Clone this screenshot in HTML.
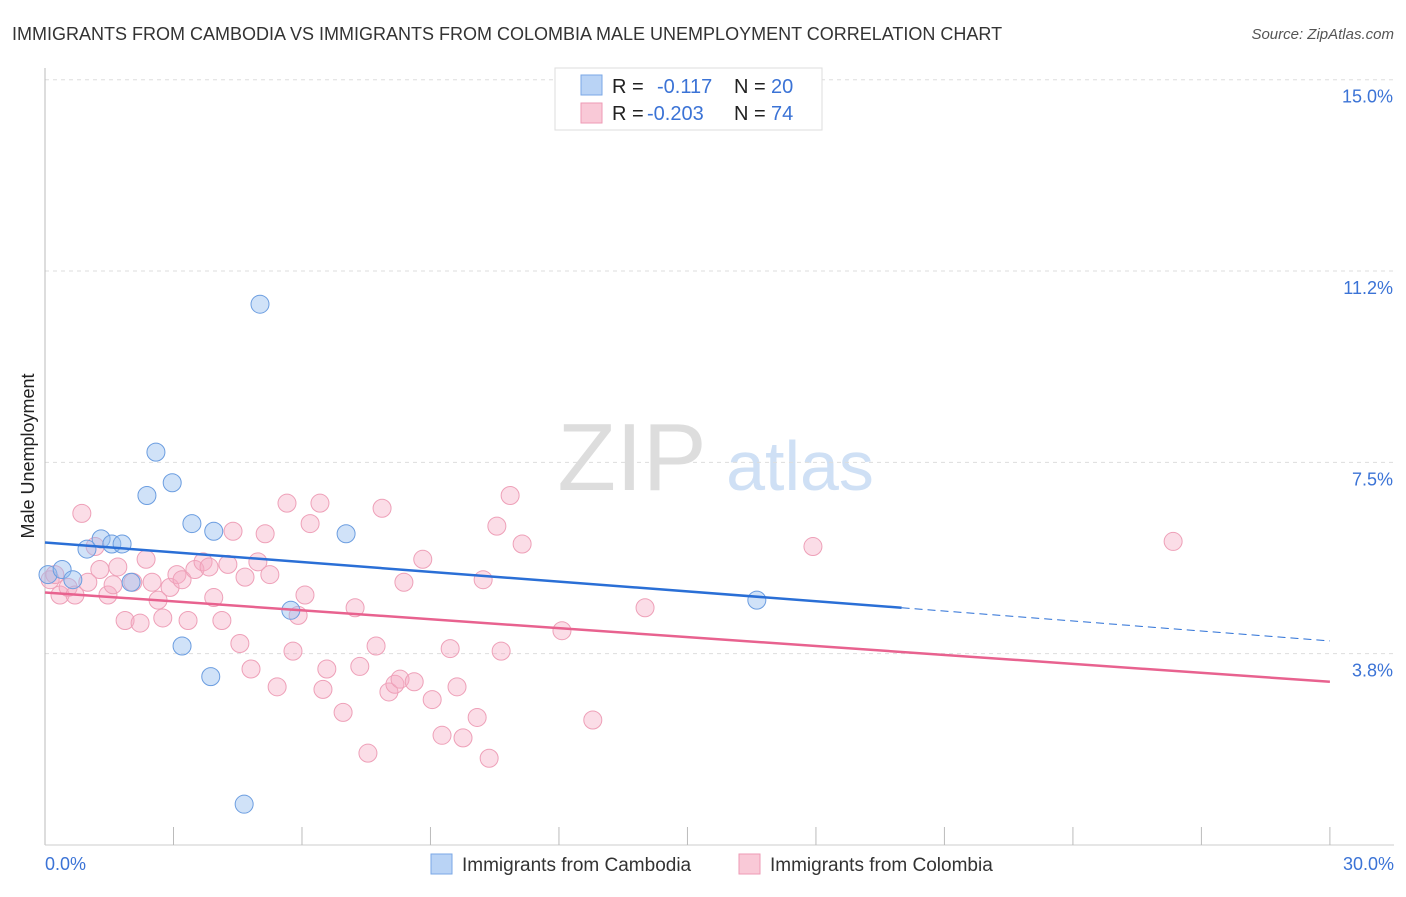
<!DOCTYPE html>
<html><head><meta charset="utf-8"><style>
body{margin:0;background:#fff;font-family:"Liberation Sans",sans-serif}
svg text{font-family:"Liberation Sans",sans-serif}
</style></head><body>
<svg id="c" width="1406" height="892" xmlns="http://www.w3.org/2000/svg">
<text x="12" y="40" font-size="18" fill="#333">IMMIGRANTS FROM CAMBODIA VS IMMIGRANTS FROM COLOMBIA MALE UNEMPLOYMENT CORRELATION CHART</text>
<text x="1394" y="39" font-size="15" fill="#555" font-style="italic" text-anchor="end">Source: ZipAtlas.com</text>
<text transform="translate(34,456) rotate(-90)" font-size="18" fill="#222" text-anchor="middle">Male Unemployment</text>
<g><text x="632" y="490" font-size="96" fill="#ddd" font-family="Liberation Serif,serif" text-anchor="middle">ZIP</text><text x="800" y="490" font-size="70" fill="#cfe0f5" text-anchor="middle">atlas</text></g>
<g id="grid"></g><g id="axes"></g><g id="pts"></g><g id="lines"></g>
<g>
<rect x="555" y="68" width="267" height="62" fill="#fff" stroke="#ddd"/>
<rect x="581" y="75" width="21" height="20" fill="#b9d3f5" stroke="#7aa7e6"/>
<rect x="581" y="103" width="21" height="20" fill="#f9c9d7" stroke="#ee9ab4"/>
<text x="612" y="93" font-size="20" fill="#222">R =</text><text x="657" y="93" font-size="20" fill="#3b73d6">-0.117</text>
<text x="734" y="93" font-size="20" fill="#222">N =</text><text x="771" y="93" font-size="20" fill="#3b73d6">20</text>
<text x="612" y="120" font-size="20" fill="#222">R =</text><text x="647" y="120" font-size="20" fill="#3b73d6">-0.203</text>
<text x="734" y="120" font-size="20" fill="#222">N =</text><text x="771" y="120" font-size="20" fill="#3b73d6">74</text>
</g>
<g>
<rect x="431" y="854" width="21" height="20" fill="#b9d3f5" stroke="#7aa7e6"/>
<text x="462" y="871" font-size="19" fill="#333">Immigrants from Cambodia</text>
<rect x="739" y="854" width="21" height="20" fill="#f9c9d7" stroke="#ee9ab4"/>
<text x="770" y="871" font-size="19" fill="#333">Immigrants from Colombia</text>
</g>
</svg>
<script>
const yTicks=[15.0,11.25,7.5,3.75];
const yTickLabels=["15.0%","11.2%","7.5%","3.8%"];
const xTickLabels=["0.0%","30.0%"];
const cambX=[0.07,0.4,0.65,0.98,1.31,1.56,1.8,2.01,2.38,2.59,2.97,3.2,3.43,3.87,3.94,5.02,5.74,7.03,4.65,16.62];
const cambY=[5.3,5.4,5.2,5.8,6.0,5.9,5.9,5.15,6.85,7.7,7.1,3.9,6.3,3.3,6.15,10.6,4.6,6.1,0.8,4.8];
const colX=[0.12,0.23,0.35,0.54,0.7,0.86,1.0,1.17,1.28,1.47,1.59,1.7,1.87,2.05,2.22,2.36,2.5,2.64,2.75,2.92,3.08,3.2,3.34,3.5,3.69,3.83,3.94,4.13,4.27,4.39,4.55,4.67,4.81,4.97,5.14,5.25,5.42,5.65,5.79,5.91,6.07,6.19,6.42,6.49,6.58,6.96,7.24,7.35,7.54,7.73,7.87,8.03,8.17,8.29,8.38,8.62,8.82,9.04,9.27,9.46,9.62,9.76,10.09,10.23,10.37,10.55,10.65,10.86,11.14,12.07,12.79,14.01,17.93,26.34];
const colY=[5.2,5.3,4.9,5.05,4.9,6.5,5.15,5.85,5.4,4.9,5.1,5.45,4.4,5.15,4.35,5.6,5.15,4.8,4.45,5.05,5.3,5.2,4.4,5.4,5.55,5.45,4.85,4.4,5.5,6.15,3.95,5.25,3.45,5.55,6.1,5.3,3.1,6.7,3.8,4.5,4.9,6.3,6.7,3.05,3.45,2.6,4.65,3.5,1.8,3.9,6.6,3.0,3.15,3.25,5.15,3.2,5.6,2.85,2.15,3.85,3.1,2.1,2.5,5.2,1.7,6.25,3.8,6.85,5.9,4.2,2.45,4.65,5.85,5.95];
const blueLine=[[0,5.93],[20,4.65]],blueDash=[[20,4.65],[30,4.0]];
const pinkLine=[[0,4.95],[30,3.2]];
const X=v=>45+v*42.83, Y=v=>845-v*51.02;
const ns="http://www.w3.org/2000/svg";
function mk(t,a,p){const e=document.createElementNS(ns,t);for(const k in a)e.setAttribute(k,a[k]);document.getElementById(p).appendChild(e);return e;}
yTicks.forEach((v,i)=>{
 const l=mk('line',{x1:45,x2:1394,y1:Y(v),y2:Y(v),stroke:'#ddd','stroke-dasharray':'4,4'},'grid');
 
 
 const t=mk('text',{x:1393,y:Y(v)+23,'font-size':18,fill:'#3b73d6','text-anchor':'end'},'grid');t.textContent=yTickLabels[i];
 
 
});
const ax=mk('line',{x1:45,x2:45,y1:68,y2:845,stroke:'#bbb'},'axes');


const bx=mk('line',{x1:45,x2:1394,y1:845,y2:845,stroke:'#ccc'},'axes');


for(let i=1;i<=10;i++){const t=mk('line',{x1:X(i*3),x2:X(i*3),y1:827,y2:845,stroke:'#bbb'},'axes');
 
 }
[[0,'start',45],[30,'end',1394]].forEach((d,i)=>{const t=mk('text',{x:d[2],y:870,'font-size':18,fill:'#3b73d6','text-anchor':d[1]},'axes');t.textContent=xTickLabels[i];
 
 });
colX.forEach((x,i)=>{const c=mk('circle',{cx:X(x),cy:Y(colY[i]),r:9,fill:'rgba(246,170,195,0.4)',stroke:'#eea0b8','stroke-width':1},'pts');
 
 });
cambX.forEach((x,i)=>{const c=mk('circle',{cx:X(x),cy:Y(cambY[i]),r:9,fill:'rgba(150,190,240,0.45)',stroke:'#6b9de0','stroke-width':1},'pts');
 
 });
let l1=mk('line',{x1:X(blueLine[0][0]),y1:Y(blueLine[0][1]),x2:X(blueLine[1][0]),y2:Y(blueLine[1][1]),stroke:'#2a6fd6','stroke-width':2.5},'lines');


let l2=mk('line',{x1:X(blueDash[0][0]),y1:Y(blueDash[0][1]),x2:X(blueDash[1][0]),y2:Y(blueDash[1][1]),stroke:'#2a6fd6','stroke-width':1,'stroke-dasharray':'8,5'},'lines');


let l3=mk('line',{x1:X(pinkLine[0][0]),y1:Y(pinkLine[0][1]),x2:X(pinkLine[1][0]),y2:Y(pinkLine[1][1]),stroke:'#e8628f','stroke-width':2.5},'lines');


</script>
</body></html>
